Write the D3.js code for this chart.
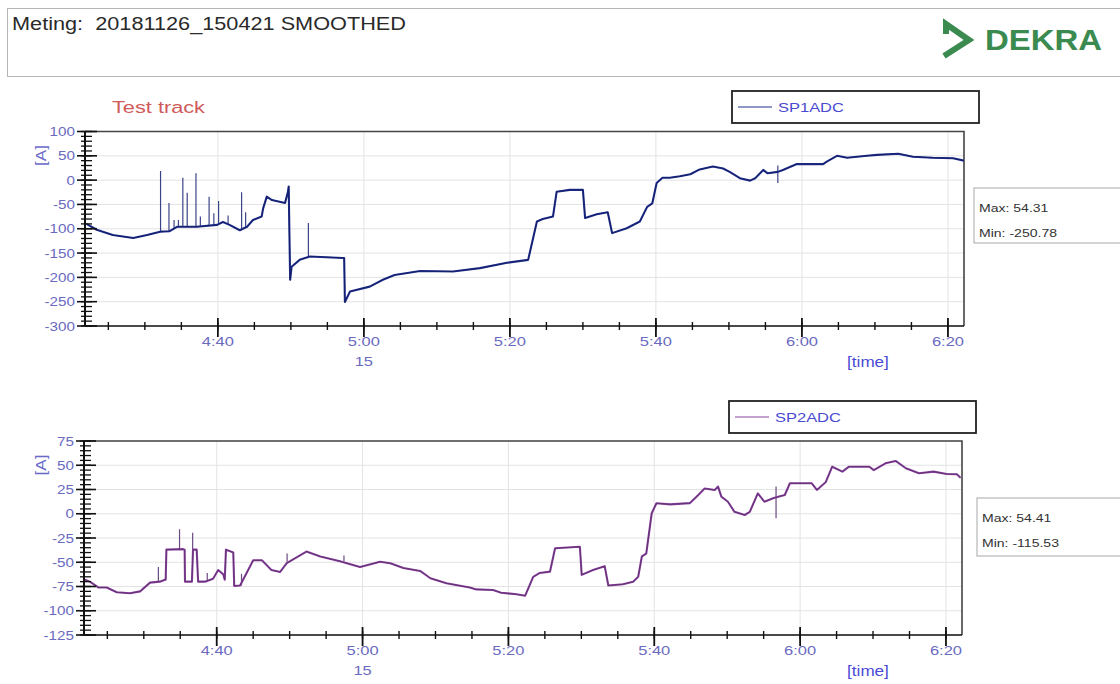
<!DOCTYPE html>
<html><head><meta charset="utf-8">
<script src="https://cdn.jsdelivr.net/npm/d3@7"></script>
<style>
html,body{margin:0;padding:0;background:#fff;}
svg text{font-family:"Liberation Sans",Arial,sans-serif;}
</style></head>
<body><svg id="c" width="1120" height="684"></svg>
<script>
// ---------- DATA (time = minutes after 04:00) ----------
const sp1Time = [22.0,23.4,25.6,28.4,30.3,32.1,33.4,34.4,37.1,39.9,40.7,41.6,43.0,44.0,44.8,46.0,46.2,46.7,47.4,49.2,49.6,49.7,49.9,50.1,51.2,52.6,57.1,57.3,57.4,58.1,60.8,62.6,64.2,67.7,72.2,75.9,79.6,82.5,83.7,84.5,85.9,86.4,88.2,90.0,90.3,91.9,93.4,94.0,96.0,97.8,98.8,99.5,100.1,100.9,101.9,103.3,104.7,106.0,107.8,109.2,110.1,111.5,112.9,113.6,114.7,115.3,116.7,117.4,119.3,122.9,123.4,124.8,126.2,128.9,130.3,133.2,135.2,137.9,140.7,142.2];
const sp1Value = [-90,-102,-113,-119,-113,-106,-105,-96,-96,-92,-86,-92,-103,-96,-82,-75,-58,-34,-41,-47,-24,-13,-205,-178,-164,-157,-160,-160,-250.78,-229,-219,-205,-195,-187,-188,-181,-170,-164,-85,-80,-75,-24,-20,-20,-78,-70,-66,-109,-99,-85,-55,-48,-6,5,5,8,12,22,28,24,17,4,-1,4,21,14,17,21,33,33,38,50,46,50,52,54.31,48,46,45,40];
// short spikes: time, from, to
const sp1SpikeTime = [32.15,33.3,34.0,34.6,35.2,35.8,37.0,37.6,38.8,39.45,40.1,41.4,43.25,43.8,52.4,116.7];
const sp1SpikeFrom = [-106,-105,-100,-96,-96,-96,-96,-96,-94,-93,-90,-92,-103,-98,-157,-6];
const sp1SpikeTo   = [19,-47,-82,-82,5,-26,14,-75,-34,-68,-43,-73,-25,-66,-88,30];

const sp2Time = [21.94,22.6,23.76,24.9,26.3,28.1,29.5,30.85,32.2,32.9,33.0,33.1,35.4,35.6,35.65,36.6,36.75,37.25,37.45,38.4,39.5,40.2,40.9,41.1,41.27,42.27,42.4,43.2,44.1,45.0,46.2,47.5,48.7,49.6,52.3,54.2,56.9,59.65,62.4,63.8,65.6,67.9,69.3,71.5,74.7,75.6,77.9,79.0,81.1,82.3,83.4,84.3,85.7,86.4,89.8,90.05,91.6,93.2,93.7,95.7,97.1,97.8,98.3,98.9,99.65,100.3,102.2,104.9,106.0,106.9,108.3,108.75,109.2,110.1,111.0,112.4,113.1,114.2,115.1,116.3,117.0,117.9,118.6,121.6,122.3,123.5,124.4,125.8,126.7,129.5,130.1,131.7,133.1,134.5,136.3,138.3,140.1,141.5,142.0];
const sp2Value = [-68,-70,-76,-76,-81,-82,-80,-71,-70,-68,-68,-37,-36.5,-37,-70,-70,-37,-37,-70,-70,-67,-58,-62.5,-68,-37,-40,-74.5,-74,-61,-48,-48,-58,-60,-51,-39,-44,-49,-55,-49.5,-51,-56,-59,-66.5,-71.7,-76,-78,-78.6,-81.4,-83,-84.5,-65,-61,-59.7,-35.6,-34,-63,-58,-54,-74,-72.7,-70,-65,-44,-41,0.5,10.8,9.7,11,19,26,24.5,28,17.6,12.4,2,-1.3,2,21,12.4,16,17.6,19.3,31.4,31.4,24.5,32.4,48.5,43.4,48.5,48.5,45,52,54.41,46.9,41.7,43.4,41,40.7,37];
const sp2SpikeTime = [32.0,34.9,36.7,38.7,43.4,49.65,57.45,116.7];
const sp2SpikeFrom = [-70,-37,-37,-70,-74,-51,-49,-4.7];
const sp2SpikeTo   = [-55,-16,-19.5,-61,-62,-41,-43,28];

const timeDomain = [21.8, 142.2];
const sp1Ticks = [100,50,0,-50,-100,-150,-200,-250,-300];
const sp2Ticks = [75,50,25,0,-25,-50,-75,-100,-125];
const headerText = "Meting:  20181126_150421 SMOOTHED";
const stats1 = ["Max: 54.31","Min: -250.78"];
const stats2 = ["Max: 54.41","Min: -115.53"];

// ---------- DRAW ----------
const svg = d3.select("#c");
const T0 = new Date(2018,10,26,4,0,0);
const toDate = m => new Date(T0.getTime()+m*60000);
const tickCol = "#6a6abf";

// header box
svg.append("rect").attr("x",7.5).attr("y",8.5).attr("width",1130).attr("height",68)
  .attr("fill","none").attr("stroke","#b5b5b5");
svg.append("text").attr("x",12).attr("y",30).attr("font-size",18).attr("fill","#2a2a2a")
  .style("white-space","pre").attr("textLength",394).attr("lengthAdjust","spacingAndGlyphs").text(headerText);
// DEKRA logo
svg.append("path").attr("d","M946,34 L946,24 L969,40 L944,56")
  .attr("fill","none").attr("stroke","#3b8a4f").attr("stroke-width",6).attr("stroke-linejoin","miter");
svg.append("text").attr("x",985).attr("y",50).attr("font-size",30).attr("font-weight","bold")
  .attr("fill","#3b8a4f").attr("textLength",117).attr("lengthAdjust","spacingAndGlyphs").text("DEKRA");

svg.append("text").attr("x",112).attr("y",113).attr("font-size",16).attr("fill","#d05a5a")
  .attr("textLength",93).attr("lengthAdjust","spacingAndGlyphs").text("Test track");

function panel(o){
  const g = svg.append("g");
  const x = d3.scaleTime().domain(timeDomain.map(toDate)).range([o.x0,o.x1]);
  const y = d3.scaleLinear().domain(o.yDom).range([o.y1,o.y0]);
  // grid
  const majorT = d3.timeMinute.every(20).range(toDate(timeDomain[0]), toDate(timeDomain[1]+0.01));
  g.selectAll(".gy").data(o.ticks).join("line").attr("x1",o.x0).attr("x2",o.x1)
    .attr("y1",d=>y(d)).attr("y2",d=>y(d)).attr("stroke","#e3e3e3");
  g.selectAll(".gx").data(majorT).join("line").attr("x1",d=>x(d)).attr("x2",d=>x(d))
    .attr("y1",o.y0).attr("y2",o.y1).attr("stroke","#e3e3e3");
  // border top/right
  g.append("path").attr("d",`M${o.x0},${o.y0}H${o.x1}V${o.y1}`).attr("fill","none").attr("stroke","#444").attr("stroke-width",1.6);
  // clip
  const cid="clip"+o.id;
  svg.append("clipPath").attr("id",cid).append("rect").attr("x",o.x0).attr("y",o.y0-1).attr("width",o.x1-o.x0).attr("height",o.y1-o.y0+1);
  const pg = g.append("g").attr("clip-path",`url(#${cid})`);
  // spikes
  pg.selectAll(".sp").data(o.spT.map((t,i)=>[t,o.spF[i],o.spTo[i]])).join("line")
    .attr("x1",d=>x(toDate(d[0]))).attr("x2",d=>x(toDate(d[0])))
    .attr("y1",d=>y(d[1])).attr("y2",d=>y(d[2])).attr("stroke",o.spikeCol).attr("stroke-width",1.2);
  const pts = o.t.map((t,i)=>[toDate(t),o.v[i]]);
  const line = d3.line().x(d=>x(d[0])).y(d=>y(d[1]));
  pg.append("path").datum(pts).attr("d",line).attr("fill","none").attr("stroke",o.col).attr("stroke-width",2.1).attr("stroke-linejoin","round");
  pg.append("path").datum(pts).attr("d",line).attr("fill","none").attr("stroke",o.core).attr("stroke-width",0.8);
  // y axis
  g.append("line").attr("x1",o.x0).attr("x2",o.x0).attr("y1",o.y0).attr("y2",o.y1).attr("stroke","#111").attr("stroke-width",2);
  const minorY = d3.range(o.yDom[0], o.yDom[1]+0.001, o.minorStep);
  g.selectAll(".my").data(minorY).join("line").attr("x1",o.x0-4).attr("x2",o.x0+7)
    .attr("y1",d=>y(d)).attr("y2",d=>y(d)).attr("stroke","#111").attr("stroke-width",1.3);
  g.selectAll(".My").data(o.ticks).join("line").attr("x1",o.x0-8).attr("x2",o.x0+12)
    .attr("y1",d=>y(d)).attr("y2",d=>y(d)).attr("stroke","#111").attr("stroke-width",1.6);
  g.selectAll(".ly").data(o.ticks).join("text").attr("class","st").attr("x",o.x0-10).attr("y",d=>y(d)+4.5)
    .attr("text-anchor","end").attr("font-size",12.5).attr("fill",tickCol).text(d=>d);
  // x axis
  g.append("line").attr("x1",o.x0).attr("x2",o.x1).attr("y1",o.y1).attr("y2",o.y1).attr("stroke","#111").attr("stroke-width",1.6);
  const minorT = d3.timeMinute.every(5).range(toDate(timeDomain[0]), toDate(timeDomain[1]));
  g.selectAll(".mx").data(minorT).join("line").attr("x1",d=>x(d)).attr("x2",d=>x(d))
    .attr("y1",o.y1-4).attr("y2",o.y1+4).attr("stroke","#111").attr("stroke-width",1.4);
  g.selectAll(".Mx").data(majorT).join("line").attr("x1",d=>x(d)).attr("x2",d=>x(d))
    .attr("y1",o.y1-8).attr("y2",o.y1+11).attr("stroke","#111").attr("stroke-width",1.8);
  const fmt = d3.timeFormat("%-H:%M");
  g.selectAll(".lx").data(majorT).join("text").attr("class","st").attr("x",d=>x(d)).attr("y",o.y1+20)
    .attr("text-anchor","middle").attr("font-size",13.5).attr("fill",tickCol).text(d=>fmt(d));
  g.append("text").attr("class","st").attr("x",x(toDate(60))).attr("y",o.y1+40).attr("text-anchor","middle")
    .attr("font-size",13.5).attr("fill",tickCol).text("15");
  g.append("text").attr("class","st").attr("x",868).attr("y",o.y1+41).attr("text-anchor","middle")
    .attr("font-size",14).attr("fill","#4a4ad6").text("[time]");
  g.append("text").attr("class","st").attr("transform",`translate(46,${o.y0+24}) rotate(-90)`).attr("text-anchor","middle")
    .attr("font-size",14).attr("fill","#6a6ac8").text("[A]");
  // legend
  g.append("rect").attr("x",o.lx).attr("y",o.ly).attr("width",247).attr("height",32)
    .attr("fill","#fff").attr("stroke","#222").attr("stroke-width",1.8);
  g.append("line").attr("x1",o.lx+6).attr("x2",o.lx+40).attr("y1",o.ly+16).attr("y2",o.ly+16).attr("stroke",o.col).attr("stroke-width",1.2);
  g.append("text").attr("class","st").attr("x",o.lx+46).attr("y",o.ly+21).attr("font-size",13.5).attr("fill","#4a4ad0").text(o.name);
  // stats box
  g.append("rect").attr("x",o.sx).attr("y",o.sy).attr("width",160).attr("height",o.sh)
    .attr("fill","#fff").attr("stroke","#a8a8a8");
  g.selectAll(".stt").data(o.stats).join("text").attr("class","st").attr("x",o.sx+5).attr("y",(d,i)=>o.sy+24+i*25)
    .attr("font-size",11.5).attr("fill","#333").text(d=>d);
}

panel({id:1,x0:85,x1:964,y0:131.5,y1:326,yDom:[-300,100],ticks:sp1Ticks,minorStep:10,
  t:sp1Time,v:sp1Value,spT:sp1SpikeTime,spF:sp1SpikeFrom,spTo:sp1SpikeTo,
  col:"#22318f",core:"#101a60",spikeCol:"#3c4488",name:"SP1ADC",lx:732,ly:91,sx:974,sy:188,sh:55,stats:stats1});
panel({id:2,x0:84,x1:962,y0:441,y1:635,yDom:[-125,75],ticks:sp2Ticks,minorStep:5,
  t:sp2Time,v:sp2Value,spT:sp2SpikeTime,spF:sp2SpikeFrom,spTo:sp2SpikeTo,
  col:"#8a46a0",core:"#5a2a68",spikeCol:"#6a4a80",name:"SP2ADC",lx:729,ly:401,sx:977,sy:498,sh:58,stats:stats2});

// horizontal stretch of text to match reference rendering
svg.selectAll("text.st").each(function(){
  const L=this.getComputedTextLength();
  this.setAttribute("textLength",L*1.22);
  this.setAttribute("lengthAdjust","spacingAndGlyphs");
});
</script></body></html>
